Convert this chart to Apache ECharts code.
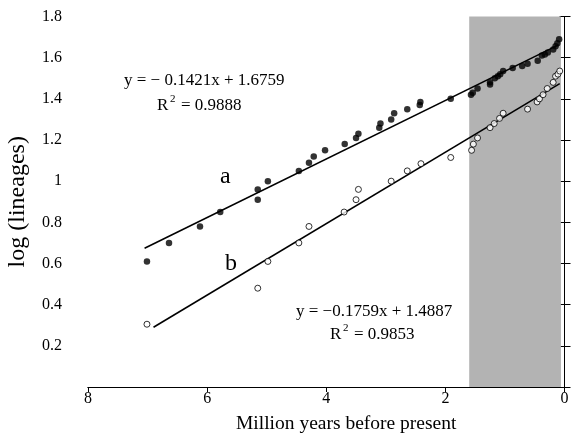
<!DOCTYPE html>
<html>
<head>
<meta charset="utf-8">
<script src="https://cdn.jsdelivr.net/npm/echarts@6/dist/echarts.min.js"></script>
<style>
html,body{margin:0;padding:0;background:#fff;}
#c{width:571px;height:435px;}
</style>
</head>
<body>
<div id="c"></div>
<script>
// Series a (filled): [million years before present, log(lineages)]
var seriesA = [
  [7.01,0.61],[6.64,0.70],[6.12,0.78],[5.78,0.85],[5.15,0.91],[5.15,0.96],[4.98,1.00],
  [4.46,1.05],[4.29,1.09],[4.21,1.12],[4.02,1.15],[3.69,1.18],[3.50,1.21],[3.46,1.23],
  [3.11,1.26],[3.09,1.28],[2.91,1.30],[2.86,1.33],[2.64,1.35],[2.43,1.37],[2.42,1.385],
  [1.91,1.40],[1.57,1.42],[1.54,1.43],[1.46,1.45],[1.25,1.47],[1.25,1.48],[1.17,1.50],
  [1.12,1.51],[1.08,1.52],[1.03,1.535],[0.87,1.55],[0.71,1.56],[0.62,1.57],[0.45,1.585],
  [0.38,1.61],[0.33,1.615],[0.28,1.625],[0.19,1.64],[0.15,1.655],[0.12,1.67],[0.09,1.69]
];
// Series b (open)
var seriesB = [
  [7.01,0.305],[5.15,0.48],[4.98,0.61],[4.46,0.70],[4.29,0.78],[3.70,0.85],[3.50,0.91],
  [3.46,0.96],[2.91,1.00],[2.64,1.05],[2.41,1.085],[1.91,1.115],[1.56,1.15],[1.53,1.18],
  [1.46,1.21],[1.25,1.26],[1.18,1.28],[1.09,1.305],[1.03,1.33],[0.62,1.35],[0.46,1.385],
  [0.42,1.40],[0.36,1.42],[0.29,1.45],[0.19,1.48],[0.15,1.51],[0.11,1.52],[0.08,1.535]
];
// Regression line end points
var fitA = [[7.05,0.674],[0.10,1.662]];
var fitB = [[6.90,0.29],[0.08,1.474]];
// Shaded interval (Myr before present)
var shadeRange = [1.6, 0.06];
var xTicks = {min:0, max:8, interval:2};
var yTicks = {min:0, max:1.8, interval:0.2};
var eqA = ['y = \u2212 0.1421x + 1.6759', '= 0.9888'];
var eqB = ['y = \u22120.1759x + 1.4887', '= 0.9853'];
var xName = 'Million years before present';
var yName = 'log (lineages)';

var FONT = '"Liberation Serif", "DejaVu Serif", serif';
var chart = echarts.init(document.getElementById('c'));
var txt = function(left, top, text, size){
  return {type:'text', left:left, top:top, z:10, style:{text:text, font: size+'px '+FONT, fill:'#000'}};
};
var rsq = function(left, top, val){
  return [
    txt(left, top, 'R', 17),
    txt(left + 13, top - 3, '2', 11),
    txt(left + 24, top, val, 17)
  ];
};
chart.setOption({
  animation:false,
  backgroundColor:'#fff',
  grid:{left:88, right:6.5, top:16.5, bottom:48, containLabel:false, outerBoundsMode:'none'},
  xAxis:[{
    type:'value', inverse:true, min:xTicks.min, max:xTicks.max, interval:xTicks.interval,
    axisLine:{lineStyle:{color:'#000', width:1}},
    axisTick:{inside:false, length:5, lineStyle:{color:'#000'}},
    axisLabel:{margin:4, fontFamily:FONT, fontSize:16, color:'#000'},
    splitLine:{show:false}
  },{
    type:'value', inverse:true, position:'top', min:xTicks.min, max:xTicks.max,
    axisLine:{lineStyle:{color:'#000', width:1}}, axisTick:{show:false},
    axisLabel:{show:false}, splitLine:{show:false}
  }],
  yAxis:[{
    type:'value', min:yTicks.min, max:yTicks.max, interval:yTicks.interval,
    name:yName, nameLocation:'middle', nameGap:58,
    nameTextStyle:{fontFamily:FONT, fontSize:24, color:'#000'},
    axisLine:{show:true, lineStyle:{color:'#000', width:1}},
    axisTick:{show:true, length:5, lineStyle:{color:'#000'}},
    axisLabel:{margin:26, fontFamily:FONT, fontSize:16, color:'#000', align:'right',
      formatter:function(v){return v===0?'':(Math.round(v*10)/10).toString();}},
    splitLine:{show:false}
  },{
    type:'value', position:'right', min:yTicks.min, max:yTicks.max, interval:yTicks.interval,
    axisLine:{show:true, lineStyle:{color:'#000', width:1}},
    axisTick:{show:true, length:6, lineStyle:{color:'#000'}},
    axisLabel:{show:false}, splitLine:{show:false}
  }],
  series:[
    {type:'line', data:[], markArea:{silent:true, itemStyle:{color:'#b3b3b3'},
      data:[[{xAxis:shadeRange[0]},{xAxis:shadeRange[1]}]]}, z:1},
    {type:'line', data:fitA, symbol:'none', lineStyle:{color:'#000', width:1.6}, z:3},
    {type:'line', data:fitB, symbol:'none', lineStyle:{color:'#000', width:1.6}, z:3},
    {type:'scatter', data:seriesA, symbol:'circle', symbolSize:6.5,
      itemStyle:{color:'#000'}, z:4},
    {type:'scatter', data:seriesB, symbol:'circle', symbolSize:6,
      itemStyle:{color:'#fff', borderColor:'#000', borderWidth:1}, z:4}
  ],
  graphic:[
    txt(236, 414, xName, 19.5),
    txt(124, 72, eqA[0], 17)
  ].concat(rsq(157, 97, eqA[1]), [
    txt(296, 303, eqB[0], 17)
  ], rsq(330, 326, eqB[1]), [
    txt(220, 165, 'a', 24),
    txt(225, 252, 'b', 24)
  ])
});
</script>
</body>
</html>
